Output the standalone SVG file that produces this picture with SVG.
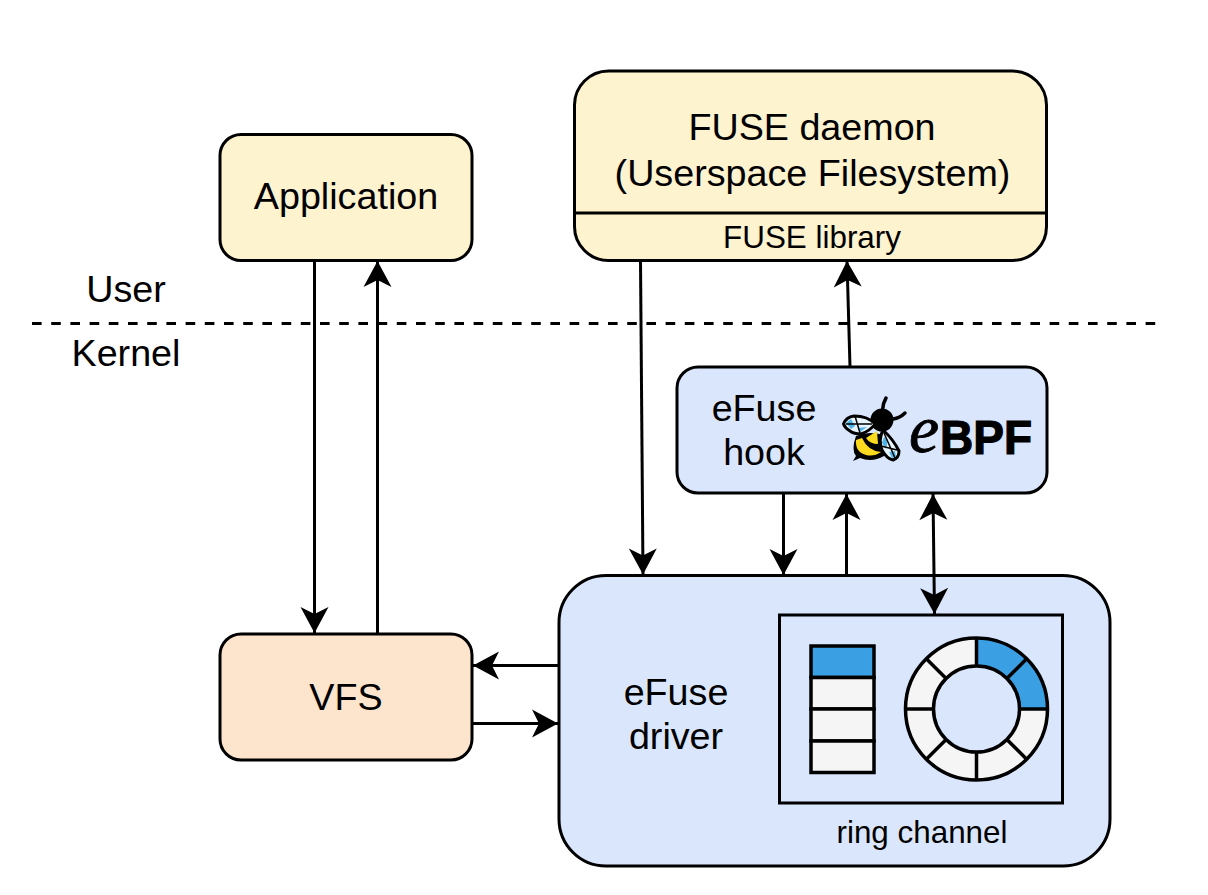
<svg xmlns="http://www.w3.org/2000/svg" width="1208" height="895" viewBox="0 0 1208 895">
<style>
text{font-family:"Liberation Sans",Arial,sans-serif;fill:#000;text-anchor:middle}
.n{stroke:#000;stroke-width:3}
.y{fill:#fdf3cf}.b{fill:#dae6fc}.o{fill:#fde5cd}
.t36{font-size:37.700px}.t30{font-size:31.400px}
.c{fill:none;stroke:#000;stroke-width:3}
.s{stroke:#000;stroke-width:3.500;fill:#f5f5f5}.h{fill:#3a9fe3}
.r{fill:none;stroke:#000;stroke-width:3.500}
.w{fill:#e8f4fb;stroke:#000;stroke-width:3;stroke-linejoin:round}
.p{fill:#4fb4e8}
.v{fill:none;stroke:#000;stroke-width:1.500}
</style>
<defs>
<marker id="a" markerUnits="userSpaceOnUse" markerWidth="30" markerHeight="30" refX="27" refY="15" orient="auto-start-reverse" viewBox="0 0 30 30">
<path d="M1 1 L27 15 L1 29 L8 15 Z" fill="#000"/>
</marker>
</defs>
<rect width="1208" height="895" fill="#fff"/>
<g id="divider">
<path d="M32 323.500H1156" fill="none" stroke="#000" stroke-width="3" stroke-dasharray="9.600 9.600"/>
<text x="126" y="302" class="t36">User</text>
<text x="126" y="366" class="t36">Kernel</text>
</g>
<g id="application">
<rect x="220" y="134.500" width="252" height="126" rx="21" class="n y"/>
<text x="346" y="209" class="t36">Application</text>
</g>
<g id="fuse-daemon">
<rect x="574.500" y="71" width="472" height="189.500" rx="34" class="n y"/>
<path d="M574.500 213H1046.500" class="c"/>
<text x="812" y="140" class="t36">FUSE daemon</text>
<text x="812.500" y="186" class="t36">(Userspace Filesystem)</text>
<text x="812" y="247.500" class="t30">FUSE library</text>
</g>
<g id="efuse-hook">
<rect x="677" y="367" width="370" height="126" rx="21" class="n b"/>
<text x="764" y="421" class="t36">eFuse</text>
<text x="764" y="465" class="t36">hook</text>
<g id="ebpf-logo">
<path d="M882.500 410Q883 403 886 398M893 419Q900 418 905 413" fill="none" stroke="#000" stroke-width="3.500" stroke-linecap="round"/>
<path d="M856 436Q851 450 856 456L853 461L860 458Q872 463 884 456L886 436Q870 430 856 436Z" fill="#000"/>
<path d="M856 440Q855 452 866 455Q874 457 881 452Q868 451 862 438Z" fill="#fbd91e"/>
<path d="M866 438L877 431L878 444Q870 444 866 438Z" fill="#fbd91e"/>
<circle cx="882" cy="420" r="11.500" fill="#000"/>
<path d="M843.500 424Q846 417 854 416Q868 416 875 424Q870 431 861 434Q854 434 850 431Q845 428 843.500 424Z" class="w" stroke-width="3.500"/>
<path d="M846 423L851 419L855 426L851 429ZM858 428L867 427L860 432Z" class="p"/>
<path d="M846 424L872 424M855 416L860 433" class="v"/>
<path d="M883 430Q893 439 899 451Q899 458 893 460Q887 459 882 450Q878 440 883 430Z" class="w" stroke-width="3.500"/>
<path d="M884 437L888 440L886 449L882 443ZM889 452L895 451L896 457L892 458Z" class="p"/>
<path d="M884 433L895 458M881 446L897 450" class="v"/>
<text x="924" y="452" stroke="#000" stroke-width="0.800" style="font-family:'Liberation Serif',serif;font-style:italic;font-size:68px">e</text>
<text x="986" y="454" textLength="92" lengthAdjust="spacingAndGlyphs" stroke="#000" stroke-width="1.200" style="font-weight:700;font-size:48px">BPF</text>
</g>
</g>
<g id="vfs">
<rect x="220" y="634" width="252" height="126" rx="21" class="n o"/>
<text x="346" y="710" class="t36">VFS</text>
</g>
<g id="efuse-driver">
<rect x="559" y="575.500" width="551" height="290.500" rx="47" class="n b"/>
<text x="676" y="705" class="t36">eFuse</text>
<text x="676" y="749" class="t36">driver</text>
</g>
<g id="ring-channel">
<rect x="779.500" y="615" width="283" height="188" class="c" stroke-width="3.500"/>
<g id="queue">
<rect x="811" y="646" width="63" height="31.500" class="s h"/>
<rect x="811" y="677.500" width="63" height="31.500" class="s"/>
<rect x="811" y="709" width="63" height="32" class="s"/>
<rect x="811" y="741" width="63" height="31.500" class="s"/>
</g>
<g id="ring">
<path fill-rule="evenodd" d="M976.500 638A71 71 0 1 1 976.500 780A71 71 0 1 1 976.500 638ZM976.500 666A43 43 0 1 0 976.500 752A43 43 0 1 0 976.500 666Z" fill="#f5f5f5"/>
<path d="M976.500 638A71 71 0 0 1 1047.500 709H1019.500A43 43 0 0 0 976.500 666Z" class="h"/>
<circle cx="976.500" cy="709" r="71" class="r"/>
<circle cx="976.500" cy="709" r="43" class="r"/>
<path d="M976.500 638V666M976.500 752V780M905.500 709H933.500M1019.500 709H1047.500M926.300 658.800L946.100 678.600M1006.900 739.400L1026.700 759.200M1026.700 658.800L1006.900 678.600M946.100 739.400L926.300 759.200" class="r"/>
</g>
<text x="922" y="842.500" class="t30">ring channel</text>
</g>
<g id="connectors">
<path d="M314.500 261V633" class="c" marker-end="url(#a)"/>
<path d="M377.500 633V261" class="c" marker-end="url(#a)"/>
<path d="M640.500 261L643 574.500" class="c" marker-end="url(#a)"/>
<path d="M850 367L847 261" class="c" marker-end="url(#a)"/>
<path d="M783.500 494V575" class="c" marker-end="url(#a)"/>
<path d="M846.500 575V494" class="c" marker-end="url(#a)"/>
<path d="M933 494L934.500 614" class="c" marker-start="url(#a)" marker-end="url(#a)"/>
<path d="M558 665.500H473" class="c" marker-end="url(#a)"/>
<path d="M472 723.500H558" class="c" marker-end="url(#a)"/>
</g>
</svg>
